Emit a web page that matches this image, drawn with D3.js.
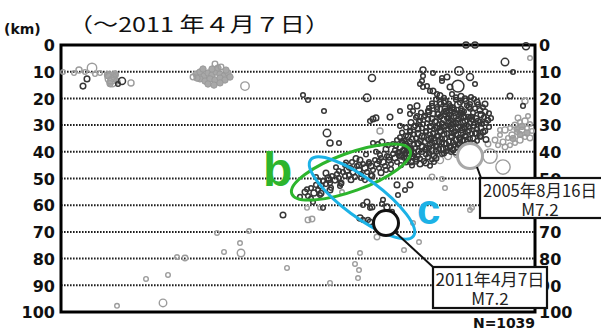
<!DOCTYPE html>
<html><head><meta charset="utf-8">
<script src="https://cdn.jsdelivr.net/npm/d3@7"></script>
<style>html,body{margin:0;padding:0;background:#fff;} svg{display:block;}</style>
</head><body>
<svg id="c" width="601" height="332"></svg>
<script>
// ---------------- data ----------------
const depthTicks = [0,10,20,30,40,50,60,70,80,90,100];
const rightTicks = [0,10,20,30,40,50,70,80,90,100]; // 60 is hidden by the 2005 label in the source
const titleText = "（～2011 年４月７日）";
const countLabel = "N=1039";
const zoneLabels = ["b","c"];

// [distance along profile (km), depth (km), magnitude]
const darkQuakes = [
 [26,12.7,3.2],[22,15.4,3.2],[61,13.5,3.5],[57,14.6,3.0],
 [405,0,3.3],[414,0,3.3],[465,0.5,3.5],[444,6.4,3.6],[452,10.1,3.0],
 [311,12.4,3.5],[362,9.4,3.3],[372,10.5,3.0],[381,12.4,3.0],[386,12.0,3.2],[398,9.7,3.8],[409,12.0,3.5],
 [362,11.6,3.0],[381,13.5,3.0],[359,14.6,3.0],[362,15.7,3.0],[397,15.4,4.5],[389,15.7,3.2],[372,17.2,3.2],
 [376,18.4,3.0],[414,14.6,3.0],[424,22.1,3.2],[449,19.1,3.2],[462,22.8,3.0],
 [312,27.7,3.2],[329,27.0,3.2],[339,24.7,3.0],[356,22.8,3.2],[356,26.6,3.0],[349,25.8,3.0],[309,28.5,3.0],
 [242,18.7,3.0],[247,20.6,3.0],[306,19.8,3.6],[263,24.7,3.0],[315,27.3,3.2],[266,33.0,3.6],[269,36.7,3.3],
 [278,36.7,3.0],[312,36.7,3.0],[321,36.3,3.2],[327,37.5,3.0],[317,37.1,3.0],[332,37.1,3.0],[341,36.0,3.0],
 [339,30.3,3.0],[349,23.2,3.0],[352,24.7,3.0],[361,13.5,3.0],[366,15.4,3.0],[369,17.2,3.0],[336,35.6,3.0],
 [394,27.0,4.6],[419,27.0,4.4],
 // dense cluster
 [379,18.9,3.2],[391,18.4,3.0],[400,19.2,3.2],
 [375,20.3,3.0],[384,21.0,3.3],[395,20.5,3.0],[405,20.9,3.2],[413,20.2,3.0],
 [371,22.8,3.0],[380,22.1,3.2],[389,22.9,3.0],[397,22.3,3.4],[406,22.7,3.0],[417,22.2,3.0],
 [367,24.6,3.0],[376,24.0,3.0],[385,24.8,3.3],[393,24.2,3.0],[401,24.6,3.1],[409,23.9,3.0],[419,24.5,3.2],
 [364,26.4,3.0],[372,25.8,3.2],[380,26.7,3.0],[388,26.0,3.0],[395,26.5,3.3],[402,25.7,3.0],[410,26.8,3.0],[420,26.1,3.2],[428,25.6,3.0],
 [359,28.3,3.0],[367,27.8,3.1],[375,28.6,3.0],[383,27.9,3.3],[390,28.4,3.0],[397,27.7,3.0],[404,28.5,3.2],[411,28.0,3.0],[419,28.7,3.0],[427,28.2,3.1],
 [354,30.2,3.0],[362,29.7,3.0],[370,30.4,3.2],[378,29.8,3.0],[385,30.3,3.0],[392,29.6,3.3],[399,30.5,3.0],[406,29.9,3.0],[413,30.1,3.2],[421,29.5,3.0],
 [349,32.0,3.0],[357,31.5,3.2],[365,32.2,3.0],[373,31.6,3.0],[380,32.1,3.3],[387,31.4,3.0],[394,32.3,3.0],[401,31.7,3.2],[408,32.0,3.0],[416,31.5,3.0],[424,32.2,3.1],
 [345,33.9,3.0],[353,33.4,3.0],[361,34.1,3.2],[369,33.5,3.0],[376,34.0,3.0],[383,33.3,3.2],[390,34.2,3.0],[397,33.6,3.3],[404,33.9,3.0],[411,33.2,3.0],[419,34.0,3.2],
 [343,35.8,3.0],[351,35.3,3.2],[359,36.0,3.0],[367,35.4,3.0],[374,35.9,3.3],[381,35.2,3.0],[388,36.1,3.0],[395,35.5,3.2],[402,35.8,3.0],[409,35.1,3.0],[416,35.9,3.0],[425,35.4,3.2],
 [345,37.7,3.0],[353,37.2,3.0],[361,37.9,3.2],[369,37.3,3.0],[376,37.8,3.0],[383,37.1,3.3],[390,38.0,3.0],[397,37.4,3.0],[404,37.7,3.2],
 [343,39.5,3.0],[350,39.0,3.2],[357,39.7,3.0],[364,39.1,3.0],[371,39.6,3.3],[378,38.9,3.0],[385,39.8,3.0],[392,39.2,3.2],[399,39.4,3.0],
 [341,41.4,3.0],[349,40.9,3.2],[357,41.6,3.0],[365,41.0,3.0],[373,41.5,3.2],[381,40.8,3.0],
 [347,43.3,3.0],[355,42.8,3.2],[363,43.5,3.0],[371,42.9,3.0],
 [351,45.1,3.0],[359,44.6,3.2],[369,45.2,3.0],
 [383,21.5,3.0],[391,23.5,3.2],[399,25.4,3.0],[387,27.3,3.0],[395,29.2,3.2],[403,31.0,3.0],[391,33.0,3.0],[399,34.9,3.2],
 [407,36.8,3.0],[385,38.6,3.0],[395,40.2,3.2],[379,31.0,3.0],[409,27.3,3.0],[415,33.0,3.2],[373,35.0,3.0],[365,38.5,3.0],
 [357,37.0,3.2],[381,36.5,3.0],[389,30.5,3.0],[377,26.0,3.2],[411,38.0,3.0],[398,37.0,3.0],[403,27.0,3.2],[393,37.5,3.0],[383,25.0,3.0],
 // dense cluster, staggered rows
 [383,19.8,3.0],[395,19.6,3.0],[404,20.1,3.2],[410,19.5,3.0],
 [371,21.8,3.0],[379,21.5,3.2],[388,22.0,3.0],[399,21.6,3.0],[409,22.1,3.0],[416,21.4,3.2],
 [368,23.6,3.0],[376,23.2,3.0],[384,23.9,3.2],[392,23.4,3.0],[400,23.8,3.0],[408,23.1,3.2],[414,23.7,3.0],[422,23.3,3.0],
 [360,25.3,3.0],[368,25.0,3.2],[377,25.6,3.0],[386,25.1,3.0],[394,25.5,3.2],[403,24.9,3.0],[412,25.4,3.0],[424,25.0,3.2],
 [355,27.2,3.0],[363,26.9,3.0],[371,27.5,3.2],[379,27.0,3.0],[386,27.4,3.0],[393,26.8,3.2],[400,27.3,3.0],[407,26.9,3.0],[415,27.5,3.2],[423,27.0,3.0],[430,27.4,3.0],
 [350,29.0,3.2],[358,28.7,3.0],[366,29.3,3.0],[374,28.8,3.2],[381,29.2,3.0],[388,28.6,3.0],[395,29.4,3.2],[402,28.9,3.0],[409,29.2,3.0],[417,28.6,3.2],[425,29.1,3.0],
 [345,30.9,3.0],[353,30.6,3.2],[361,31.2,3.0],[369,30.7,3.0],[376,31.1,3.2],[383,30.5,3.0],[390,31.3,3.0],[397,30.8,3.2],[404,31.1,3.0],[412,30.6,3.0],[420,31.2,3.2],[428,30.7,3.0],
 [341,32.8,3.0],[349,32.5,3.0],[357,33.1,3.2],[365,32.6,3.0],[372,33.0,3.0],[379,32.4,3.2],[386,33.2,3.0],[393,32.7,3.0],[400,33.0,3.2],[407,32.5,3.0],[414,33.1,3.0],[422,32.6,3.2],
 [339,34.6,3.0],[347,34.3,3.2],[355,34.9,3.0],[363,34.4,3.0],[370,34.8,3.2],[377,34.2,3.0],[384,35.0,3.0],[391,34.5,3.2],[398,34.8,3.0],[405,34.3,3.0],[412,34.9,3.2],[420,34.4,3.0],
 [341,36.5,3.0],[349,36.2,3.0],[357,36.8,3.2],[364,36.3,3.0],[371,36.7,3.0],[378,36.1,3.2],[385,36.9,3.0],[392,36.4,3.0],[399,36.7,3.2],[406,36.2,3.0],[413,36.8,3.0],
 [339,38.4,3.2],[347,38.1,3.0],[354,38.7,3.0],[361,38.2,3.2],[368,38.6,3.0],[375,38.0,3.0],[382,38.8,3.2],[389,38.3,3.0],[396,38.6,3.0],[402,38.1,3.2],
 [337,40.3,3.0],[345,40.0,3.0],[353,40.6,3.2],[361,40.1,3.0],[368,40.5,3.0],[375,39.9,3.2],[383,40.6,3.0],[390,40.1,3.0],
 [343,42.2,3.0],[351,41.9,3.2],[359,42.5,3.0],[367,42.0,3.0],[375,42.4,3.2],
 [345,44.0,3.0],[355,43.7,3.0],[365,44.2,3.2],[373,43.8,3.0],
 // dipping band (b)
 [239,56.9,3.0],[244,55.1,3.2],[247,56.6,3.0],[250,53.6,3.0],[253,55.4,3.3],[255,52.4,3.0],[257,54.3,3.0],[260,52.8,3.2],
 [262,50.9,3.0],[265,52.1,3.0],[267,49.8,3.3],[269,51.7,3.0],[271,49.1,3.0],[274,50.6,3.2],[276,48.3,3.0],[278,49.8,3.0],
 [280,51.7,3.2],[282,47.6,3.0],[284,49.1,3.0],[286,46.8,3.3],[288,48.7,3.0],[290,46.1,3.0],[292,47.6,3.2],[294,49.4,3.0],
 [296,45.3,3.0],[298,46.8,3.2],[300,48.3,3.0],[302,44.6,3.0],[304,46.1,3.3],[306,47.6,3.0],[308,43.8,3.0],[310,45.3,3.2],
 [312,46.8,3.0],[314,43.1,3.0],[316,44.6,3.2],[318,46.1,3.0],[320,42.3,3.0],[322,43.8,3.3],[324,45.3,3.0],[326,41.6,3.0],
 [328,43.1,3.2],[330,44.6,3.0],[332,40.8,3.0],[334,42.3,3.2],[336,43.8,3.0],[338,40.1,3.0],[340,41.6,3.3],[342,39.3,3.0],
 [344,40.8,3.0],[346,42.3,3.2],[348,38.6,3.0],[350,40.1,3.0],[352,41.6,3.2],[291,43.8,3.0],[279,52.8,3.0],[269,54.3,3.2],
 [259,56.2,3.0],[284,44.9,3.0],[299,43.1,3.2],[319,41.2,3.0],[334,39.3,3.0],[311,49.1,3.2],[304,50.6,3.0],[325,46.8,3.0],
 [255,49.5,3.0],[265,48.0,3.2],[275,45.8,3.0],[285,44.0,3.0],[295,42.5,3.2],[305,41.0,3.0],[315,40.0,3.0],[325,39.0,3.2],[335,37.8,3.0],[345,37.0,3.0],
 [250,57.5,3.0],[260,55.5,3.2],[270,53.5,3.0],[280,52.0,3.0],[290,50.5,3.2],[300,49.8,3.0],[310,48.8,3.0],[320,47.8,3.2],[330,46.5,3.0],[340,45.0,3.0],[350,43.8,3.2],
 [246,54.0,3.0],[258,51.0,3.0],[268,50.5,3.2],[278,47.2,3.0],[288,46.0,3.0],[298,45.0,3.2],[308,44.5,3.0],[318,43.5,3.0],[328,42.0,3.2],[338,41.5,3.0],
 // below the band (c)
 [262,61.0,3.0],[252,58.8,3.0],[222,63.7,3.2],[306,58.8,3.2],[322,58.0,3.0],[326,60.7,3.3],[309,61.0,3.0],[299,64.8,3.3],
 [307,65.5,3.0],[336,52.4,3.2],[302,59.9,3.0],[311,60.7,3.2],[321,59.5,3.0],[302,65.5,3.0],[309,66.3,3.2],[337,56.2,3.0],
 [344,54.3,3.0],[349,52.4,3.2],[331,62.5,3.0]
];

const grayQuakes = [
 [2,10.1,3.0],[13,10.5,3.0],[18,9.4,3.3],[24,10.1,3.0],[31,8.6,4.0],[34,10.9,3.0],[39,10.5,3.0],[47,11.2,3.5],
 [50,12.4,4.5],[51,13.9,4.0],[55,11.2,3.0],[70,14.2,3.3],
 [154,7.1,3.2],[160,8.2,3.2],[132,12.0,3.2],[184,15.4,3.8],[469,4.9,3.0],
 [434,35.6,3.2],[439,33.7,3.0],[444,31.8,3.3],[449,31.1,3.0],[454,30.0,3.2],[459,28.8,3.0],[464,28.5,3.3],[469,29.6,3.0],
 [437,37.5,3.0],[442,36.3,3.2],[447,34.8,3.0],[451,33.7,3.3],[456,32.6,3.0],[461,31.8,3.2],[466,31.1,3.0],[471,32.2,3.0],
 [444,38.2,3.2],[454,36.7,3.0],[459,35.6,3.3],[464,34.5,3.0],[469,34.8,3.2],[449,37.5,3.0],[439,31.8,3.0],[457,27.3,3.2],
 [467,26.6,3.0],[464,21.0,3.3],[419,33.3,3.0],[427,37.1,3.2],
 [387,41.6,3.5],[396,40.8,3.5],[352,40.1,3.2],[379,43.1,3.5],[429,41.6,5.0],[442,45.7,5.0],[319,32.2,3.3],
 [371,49.4,3.2],[381,50.2,3.0],[384,53.6,3.0],[411,61.0,3.0],
 [246,61.0,3.0],[247,65.5,3.2],[251,65.2,3.2],[259,61.0,3.0],[156,70.4,3.0],[188,69.7,3.0],[179,74.2,3.0],
 [163,77.5,3.0],[180,77.9,3.6],[226,83.5,3.0],[269,89.1,3.0],[299,77.9,3.0],[294,82.0,3.0],[298,84.3,3.0],
 [297,87.3,3.0],[316,71.9,3.2],[116,79.4,3.0],[124,79.8,3.2],[85,87.6,3.0],[107,86.1,3.0],[102,96.6,3.6],
 [56,97.7,3.0],[409,61.8,3.0],[352,66.7,3.0],[358,73.8,3.0],[343,76.8,3.0],[281,55.1,3.0]
];

// dense shallow swarms drawn as filled gray
const grayPatches = [
 [47,11.5],[50,13.0],[53,12.0],[56,13.5],[49,14.5],[54,10.8],
 [135,10.9],[139,10.1],[143,11.6],[147,10.5],[151,11.2],[155,10.1],[159,10.9],[163,11.6],[167,10.5],
 [139,12.7],[144,13.5],[149,12.7],[154,13.1],[159,12.4],[164,13.1],[147,14.6],[153,15.0],[159,14.2],
 [142,9.0],[151,9.0],[157,8.6],[165,9.4],[136,12.4],[169,12.0],
 [456,31.5],[461,30.5],[452,35.0],[466,33.0],[459,33.5]
];

const mainShocks = [
 {date:"2005年8月16日", mag:7.2, x:409, depth:41.6},
 {date:"2011年4月7日", mag:7.2, x:325, depth:66.7}
];

// ---------------- drawing ----------------
const svg = d3.select("#c");
const P = {left:61, right:535, top:45, bottom:312};
const x = d3.scaleLinear().domain([0,474]).range([P.left, P.right]);
const y = d3.scaleLinear().domain([0,100]).range([P.top, P.bottom]);
const r = d3.scaleLinear().domain([3,7.2]).range([2.3,12.5]);

svg.append("rect").attr("width",601).attr("height",332).attr("fill","#fff");

// grid
svg.append("g").selectAll("line").data(depthTicks.filter(d=>d>0&&d<100)).join("line")
  .attr("x1",P.left).attr("x2",P.right).attr("y1",d=>y(d)).attr("y2",d=>y(d))
  .attr("stroke","#1e1e1e").attr("stroke-width",2).attr("stroke-dasharray","1.6,1.4");

// axes labels
const axL = svg.append("g").attr("transform",`translate(${P.left},0)`)
  .call(d3.axisLeft(y).tickValues(depthTicks).tickSize(0).tickPadding(6));
const axR = svg.append("g").attr("transform",`translate(${P.right},0)`)
  .call(d3.axisRight(y).tickValues(rightTicks).tickSize(0).tickPadding(4));
[axL,axR].forEach(a=>{
  a.select(".domain").remove();
  a.selectAll("text").attr("font-family","DejaVu Sans").attr("font-weight","bold")
   .attr("font-size",16).attr("fill","#111").attr("dy","0.36em");
});

// frame
svg.append("rect").attr("x",P.left).attr("y",P.top).attr("width",P.right-P.left).attr("height",P.bottom-P.top)
  .attr("fill","none").attr("stroke","#000").attr("stroke-width",3);

// quakes
const gq = svg.append("g");
gq.selectAll("circle.p").data(grayPatches).join("circle")
  .attr("cx",d=>x(d[0])).attr("cy",d=>y(d[1])).attr("r",3.2)
  .attr("fill","#a8a8a8").attr("stroke","#9a9a9a").attr("stroke-width",1);
gq.append("g").selectAll("circle").data(grayQuakes).join("circle")
  .attr("cx",d=>x(d[0])).attr("cy",d=>y(d[1])).attr("r",d=>r(d[2]))
  .attr("fill","none").attr("stroke","#9c9c9c").attr("stroke-width",1.4);
gq.append("g").selectAll("circle").data(darkQuakes).join("circle")
  .attr("cx",d=>x(d[0])).attr("cy",d=>y(d[1])).attr("r",d=>r(d[2]))
  .attr("fill","none").attr("stroke","#363636").attr("stroke-width",1.5);

// zone ellipses
const zones = [
  {label:zoneLabels[0], cx:290, cd:47.6, rx:63, ry:19, rot:-20, color:"#2db52d", lx:263, ly:186, fs:48},
  {label:zoneLabels[1], cx:301, cd:57.3, rx:64, ry:19, rot:36.5, color:"#1cb2e6", lx:417, ly:224, fs:42}
];
zones.forEach(z=>{
  svg.append("ellipse").attr("cx",0).attr("cy",0).attr("rx",z.rx).attr("ry",z.ry)
    .attr("transform",`translate(${x(z.cx)},${y(z.cd)}) rotate(${z.rot})`)
    .attr("fill","none").attr("stroke",z.color).attr("stroke-width",3);
  svg.append("text").attr("x",z.lx).attr("y",z.ly).text(z.label)
    .attr("font-family","Liberation Sans").attr("font-weight","bold").attr("font-size",z.fs).attr("fill",z.color);
});

// main shocks
const colorsMain = ["#a8a8a8","#111"];
mainShocks.forEach((m,i)=>{
  svg.append("circle").attr("cx",x(m.x)).attr("cy",y(m.depth)).attr("r",r(m.mag))
    .attr("fill","#fff").attr("stroke",colorsMain[i]).attr("stroke-width",3);
});

// annotation boxes
const boxes = [
  {bx:480, by:178, bw:125, bh:40, cxT:540, l1:197, l2:216, tl:114, lead:[[477,167],[481,178]]},
  {bx:433, by:267, bw:114, bh:41, cxT:490, l1:286, l2:305, tl:109, lead:[[395,232],[433,267]]}
];
mainShocks.forEach((m,i)=>{
  const b = boxes[i];
  svg.append("line").attr("x1",b.lead[0][0]).attr("y1",b.lead[0][1]).attr("x2",b.lead[1][0]).attr("y2",b.lead[1][1])
    .attr("stroke","#111").attr("stroke-width",2);
  svg.append("rect").attr("x",b.bx).attr("y",b.by).attr("width",b.bw).attr("height",b.bh)
    .attr("fill","#fff").attr("stroke","#111").attr("stroke-width",2.2);
  svg.append("text").attr("x",b.cxT).attr("y",b.l1).attr("text-anchor","middle").text(m.date)
    .attr("font-family","Noto Sans CJK JP").attr("font-size",17).attr("fill","#222")
    .attr("textLength",b.tl).attr("lengthAdjust","spacingAndGlyphs");
  svg.append("text").attr("x",b.cxT).attr("y",b.l2).attr("text-anchor","middle").text("M" + m.mag.toFixed(1))
    .attr("font-family","Noto Sans CJK JP").attr("font-size",17).attr("fill","#222");
});

// title and labels
svg.append("text").attr("x",68).attr("y",32).text(titleText)
  .attr("font-family","Noto Sans CJK JP").attr("font-size",20).attr("fill","#111")
  .attr("textLength",262).attr("lengthAdjust","spacingAndGlyphs");
svg.append("text").attr("x",4).attr("y",34).text("(km)")
  .attr("font-family","DejaVu Sans").attr("font-weight","bold").attr("font-size",14).attr("fill","#111");
svg.append("text").attr("x",473).attr("y",328).text(countLabel)
  .attr("font-family","DejaVu Sans").attr("font-weight","bold").attr("font-size",14).attr("fill","#111")
  .attr("textLength",62);
</script>
</body></html>
